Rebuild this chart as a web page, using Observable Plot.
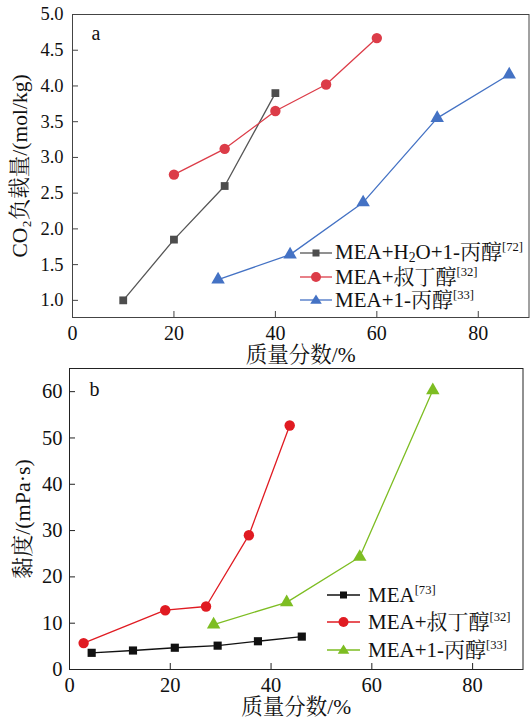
<!DOCTYPE html>
<html>
<head>
<meta charset="utf-8">
<script src="https://cdn.jsdelivr.net/npm/d3@7"></script>
<script src="https://cdn.jsdelivr.net/npm/@observablehq/plot@0.6"></script>
<style>
  html, body { margin: 0; padding: 0; background: #fff; }
  body { width: 530px; font-family: "Liberation Serif", "Noto Serif CJK SC", "Noto Sans CJK SC", serif; color: #111; }
  .panel { position: relative; width: 530px; }
  .panel svg { display: block; }
  .legend { position: absolute; font-size: 21px; line-height: 1; }
  .legend .row { display: flex; align-items: center; white-space: nowrap; }
  .legend svg { display: block; flex: none; }
  .legend sup { font-size: 0.6em; vertical-align: 0.6em; }
  .legend sub { font-size: 0.65em; vertical-align: -0.25em; }
</style>
</head>
<body>
<div id="a" class="panel"></div>
<div id="b" class="panel"></div>
<script>
// ---------- data ----------
const xTicks = [0, 20, 40, 60, 80];
const yTicksA = [1.0, 1.5, 2.0, 2.5, 3.0, 3.5, 4.0, 4.5, 5.0];
const yTicksB = [0, 10, 20, 30, 40, 50, 60];

// Panel a: CO2 loading (mol/kg) vs mass fraction (%)
const aSeriesNames = ["MEA+H₂O+1-丙醇", "MEA+叔丁醇", "MEA+1-丙醇"];
const aRefs = ["72", "32", "33"];
const aX1 = [10, 20, 30, 40];
const aY1 = [1.0, 1.85, 2.6, 3.9];
const aX2 = [20, 30, 40, 50, 60];
const aY2 = [2.76, 3.12, 3.65, 4.02, 4.67];
const aX3 = [28.7, 42.9, 57.3, 71.9, 86.1];
const aY3 = [1.29, 1.64, 2.37, 3.55, 4.16];

// Panel b: viscosity (mPa·s) vs mass fraction (%)
const bSeriesNames = ["MEA", "MEA+叔丁醇", "MEA+1-丙醇"];
const bRefs = ["73", "32", "33"];
const bX1 = [4.4, 12.6, 20.9, 29.4, 37.4, 46.1];
const bY1 = [3.6, 4.1, 4.7, 5.15, 6.1, 7.1];
const bX2 = [2.8, 19.0, 27.1, 35.6, 43.7];
const bY2 = [5.7, 12.8, 13.6, 29.0, 52.7];
const bX3 = [28.6, 43.1, 57.6, 72.1];
const bY3 = [9.7, 14.5, 24.3, 60.3];

// ---------- styles ----------
const FONT = '"Liberation Serif", "Noto Serif CJK SC", "Noto Sans CJK SC", serif';
const aColors = ["#4d4d4d", "#dc3c48", "#4472c4"];
const aLine = ["#555555", "#dc3c48", "#4472c4"];
const bColors = ["#111111", "#e01b22", "#7dbd22"];
const symbols = ["square", "circle", "triangle"];
const aR = [4.4, 5.2, 5.0];
const bR = [4.6, 5.2, 5.0];

const rows = (xs, ys) => xs.map((x, i) => ({x, y: ys[i]}));
const aData = [rows(aX1, aY1), rows(aX2, aY2), rows(aX3, aY3)];
const bData = [rows(bX1, bY1), rows(bX2, bY2), rows(bX3, bY3)];

function seriesMarks(data, lineColors, dotColors, radii) {
  const marks = [];
  data.forEach((d, i) => {
    marks.push(Plot.line(d, {x: "x", y: "y", stroke: lineColors[i], strokeWidth: 1.3}));
    marks.push(Plot.dot(d, {x: "x", y: "y", symbol: () => symbols[i], r: radii[i], fill: dotColors[i], stroke: "none"}));
  });
  return marks;
}

// ---------- panel a ----------
const chartA = Plot.plot({
  width: 530, height: 360,
  marginTop: 14, marginBottom: 43, marginLeft: 72, marginRight: 1.5,
  style: {fontFamily: FONT, fontSize: "18px", color: "#111", background: "#fff", overflow: "visible"},
  symbol: {type: "identity"},
  x: {domain: [0, 90]},
  y: {domain: [0.76, 5.0]},
  marks: [
    Plot.frame({stroke: "#444", strokeWidth: 1}),
    Plot.axisX({ticks: xTicks, tickSize: -6, tickFormat: () => "", label: null, stroke: "#444"}),
    Plot.axisY({ticks: yTicksA, tickSize: -6, tickFormat: () => "", label: null, stroke: "#444"}),
    Plot.axisX({ticks: xTicks, tickSize: 0, tickPadding: 8, fontSize: 20, label: null}),
    Plot.axisY({ticks: yTicksA, tickSize: 0, tickPadding: 9, fontSize: 18.5, tickFormat: d3.format(".1f"), label: null}),
    Plot.axisX({ticks: [], tickSize: 0, fontSize: 21.5, label: "质量分数/%", labelAnchor: "center", labelArrow: "none", labelOffset: 44, dx: 7}),
    Plot.axisY({ticks: [], tickSize: 0, fontSize: 21.5, label: "CO₂负载量/(mol/kg)", labelAnchor: "center", labelArrow: "none", labelOffset: 61}),
    ...seriesMarks(aData, aLine, aColors, aR),
    Plot.text(["a"], {frameAnchor: "top-left", dx: 19, dy: 19, text: d => d, fontSize: 20, textAnchor: "start", lineAnchor: "middle"})
  ]
});
document.getElementById("a").appendChild(chartA);

// ---------- panel b ----------
const chartB = Plot.plot({
  width: 530, height: 358,
  marginTop: 8, marginBottom: 49, marginLeft: 69, marginRight: 7.5,
  style: {fontFamily: FONT, fontSize: "18px", color: "#111", background: "transparent", overflow: "visible"},
  symbol: {type: "identity"},
  x: {domain: [0, 90]},
  y: {domain: [0, 65]},
  marks: [
    Plot.frame({stroke: "#222", strokeWidth: 1}),
    Plot.axisX({ticks: xTicks, tickSize: -6, tickFormat: () => "", label: null, stroke: "#222"}),
    Plot.axisY({ticks: yTicksB, tickSize: -6, tickFormat: () => "", label: null, stroke: "#222"}),
    Plot.axisX({ticks: xTicks, tickSize: 0, tickPadding: 8, fontSize: 20.5, label: null}),
    Plot.axisY({ticks: yTicksB, tickSize: 0, tickPadding: 7, fontSize: 20.5, label: null}),
    Plot.axisX({ticks: [], tickSize: 0, fontSize: 21.5, label: "质量分数/%", labelAnchor: "center", labelArrow: "none", labelOffset: 44}),
    Plot.axisY({ticks: [], tickSize: 0, fontSize: 22, label: "黏度/(mPa·s)", labelAnchor: "center", labelArrow: "none", labelOffset: 55}),
    ...seriesMarks(bData, bColors, bColors, bR),
    Plot.text(["b"], {frameAnchor: "top-left", dx: 20, dy: 21, text: d => d, fontSize: 20, textAnchor: "start", lineAnchor: "middle"})
  ]
});
document.getElementById("b").appendChild(chartB);

// ---------- legends (HTML overlays) ----------
function symbolSvg(i, color, lineColor, r, w) {
  const h = 20, cx = w / 2, cy = h / 2;
  let shape;
  if (symbols[i] === "square") {
    const s = r * 1.75;
    shape = `<rect x="${cx - s / 2}" y="${cy - s / 2}" width="${s}" height="${s}" fill="${color}"/>`;
  } else if (symbols[i] === "circle") {
    shape = `<circle cx="${cx}" cy="${cy}" r="${r}" fill="${color}"/>`;
  } else {
    const s = r * 2.3, hh = s * 0.8;
    shape = `<path d="M${cx},${cy - hh * 0.6}L${cx + s / 2},${cy + hh * 0.4}L${cx - s / 2},${cy + hh * 0.4}Z" fill="${color}"/>`;
  }
  return `<svg width="${w}" height="${h}"><line x1="0" x2="${w}" y1="${cy}" y2="${cy}" stroke="${lineColor}" stroke-width="1.3"/>${shape}</svg>`;
}
function labelHtml(name) {
  return name.replace("₂", "<sub>2</sub>");
}
function legend(panelId, names, refs, colors, lineColors, radii, left, top, rowH, lineW, gap) {
  const div = document.createElement("div");
  div.className = "legend";
  div.style.left = left + "px";
  div.style.top = top + "px";
  div.innerHTML = names.map((n, i) =>
    `<div class="row" style="height:${rowH}px">${symbolSvg(i, colors[i], lineColors[i], radii[i], lineW)}<span style="margin-left:${gap}px">${labelHtml(n)}<sup>[${refs[i]}]</sup></span></div>`
  ).join("");
  document.getElementById(panelId).appendChild(div);
}
legend("a", aSeriesNames, aRefs, aColors, aLine, [4, 5, 5], 300, 241.5, 23.5, 32, 3);
legend("b", bSeriesNames, bRefs, bColors, bColors, [4, 5, 5], 327, 221, 27.5, 33, 8);
</script>
</body>
</html>
